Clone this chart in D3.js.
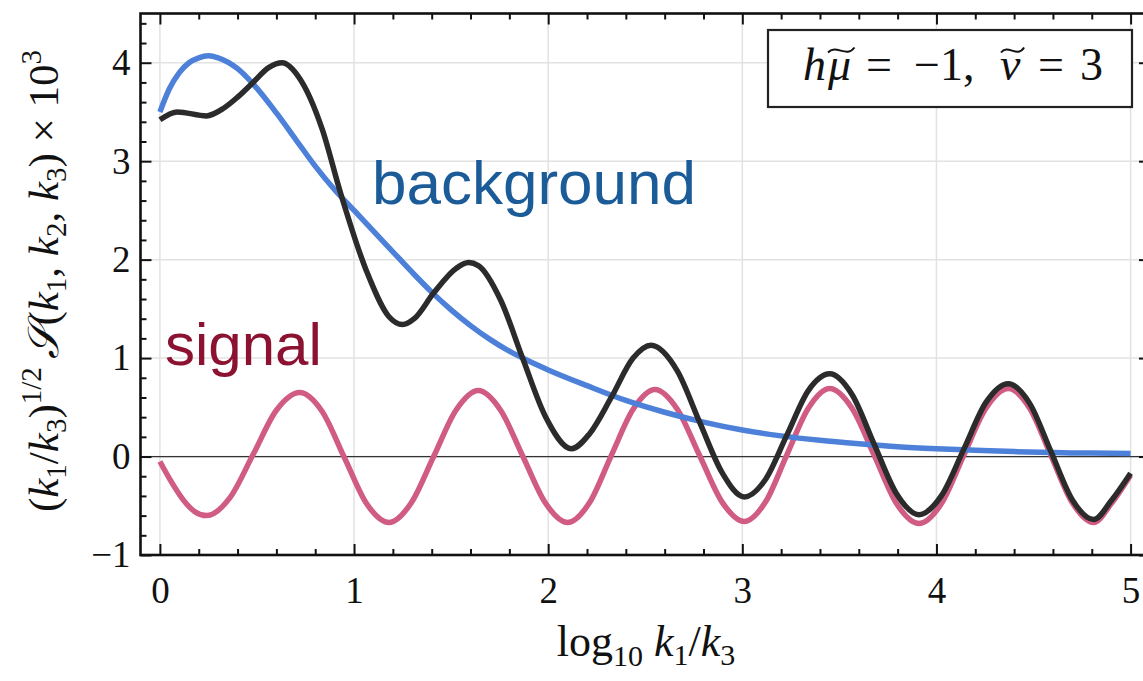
<!DOCTYPE html>
<html>
<head>
<meta charset="utf-8">
<script src="https://cdn.jsdelivr.net/npm/d3@7"></script>
<style>
  html, body { margin: 0; padding: 0; background: #fff; }
  svg { display: block; }
</style>
</head>
<body>
<svg id="chart" width="1143" height="681"></svg>
<script>
// ---------------- data ----------------
const xTickValues = [0, 1, 2, 3, 4, 5];
const yTickValues = [-1, 0, 1, 2, 3, 4];

const bgX = [0, 0.05, 0.1, 0.15, 0.2, 0.25, 0.3, 0.4, 0.5, 0.6, 0.7, 0.8, 0.9, 1.0, 1.1, 1.2, 1.3, 1.4, 1.5, 1.6, 1.7, 1.8, 1.9, 2.0, 2.2, 2.4, 2.6, 2.8, 3.0, 3.2, 3.4, 3.6, 3.8, 4.0, 4.2, 4.4, 4.6, 4.8, 5.0];
const bgY = [3.50, 3.74, 3.90, 4.00, 4.05, 4.07, 4.05, 3.94, 3.74, 3.49, 3.22, 2.95, 2.71, 2.50, 2.29, 2.08, 1.87, 1.67, 1.49, 1.33, 1.19, 1.07, 0.97, 0.88, 0.72, 0.57, 0.45, 0.35, 0.27, 0.21, 0.165, 0.13, 0.10, 0.08, 0.065, 0.05, 0.04, 0.035, 0.03];

const sigX = [0, 0.06, 0.12, 0.18, 0.24, 0.36, 0.48, 0.60, 0.72, 0.835, 0.95, 1.065, 1.18, 1.295, 1.41, 1.525, 1.64, 1.755, 1.87, 1.985, 2.10, 2.2125, 2.325, 2.4375, 2.55, 2.665, 2.78, 2.895, 3.01, 3.12, 3.23, 3.34, 3.45, 3.565, 3.68, 3.795, 3.91, 4.025, 4.14, 4.255, 4.37, 4.48, 4.59, 4.70, 4.81, 4.90, 5.0];
const sigY = [-0.05, -0.26, -0.44, -0.56, -0.60, -0.42, 0.02, 0.47, 0.65, 0.46, -0.01, -0.48, -0.67, -0.47, 0.00, 0.47, 0.67, 0.47, 0.00, -0.47, -0.67, -0.47, 0.01, 0.48, 0.68, 0.48, 0.01, -0.46, -0.66, -0.46, 0.02, 0.49, 0.69, 0.49, 0.01, -0.48, -0.68, -0.48, 0.01, 0.49, 0.69, 0.49, 0.01, -0.47, -0.67, -0.48, -0.19];

const totX = [0, 0.09, 0.24, 0.33, 0.40, 0.48, 0.56, 0.63, 0.72, 0.835, 0.93, 1.065, 1.18, 1.25, 1.31, 1.41, 1.525, 1.59, 1.64, 1.755, 1.87, 1.985, 2.12, 2.2125, 2.325, 2.4375, 2.53, 2.665, 2.78, 2.895, 3.01, 3.12, 3.23, 3.34, 3.45, 3.565, 3.68, 3.795, 3.91, 4.025, 4.14, 4.255, 4.37, 4.48, 4.59, 4.70, 4.81, 4.90, 5.0];
const totY = [3.42, 3.50, 3.46, 3.54, 3.65, 3.80, 3.95, 4.00, 3.84, 3.33, 2.68, 1.88, 1.42, 1.34, 1.40, 1.66, 1.91, 1.97, 1.94, 1.59, 0.99, 0.41, 0.08, 0.23, 0.60, 1.00, 1.13, 0.87, 0.35, -0.16, -0.41, -0.23, 0.22, 0.67, 0.84, 0.63, 0.12, -0.38, -0.59, -0.40, 0.07, 0.55, 0.74, 0.54, 0.05, -0.44, -0.64, -0.45, -0.17];

// ---------------- layout ----------------
const svg = d3.select("#chart");
svg.append("rect").attr("width", 1143).attr("height", 681).attr("fill", "#fff");

const L = 140.5, R = 1150, T = 13.5, B = 555;
const x = d3.scaleLinear().domain([-0.1, 5.1]).range([L, R]);
const y = d3.scaleLinear().domain([-1, 4.5]).range([B, T]);

const minorX = d3.range(0, 5.11, 0.2).map(v => +v.toFixed(2)).filter(v => Math.abs(v - Math.round(v)) > 1e-6);
const minorY = d3.range(-1, 4.51, 0.2).map(v => +v.toFixed(2)).filter(v => Math.abs(v - Math.round(v)) > 1e-6);

// grid
const grid = svg.append("g");
grid.selectAll("line.gx").data(xTickValues).join("line")
  .attr("x1", d => x(d)).attr("x2", d => x(d)).attr("y1", T).attr("y2", B)
  .attr("stroke", "#e2e2e2").attr("stroke-width", 1.5);
grid.selectAll("line.gy").data(yTickValues).join("line")
  .attr("x1", L).attr("x2", R).attr("y1", d => y(d)).attr("y2", d => y(d))
  .attr("stroke", "#e2e2e2").attr("stroke-width", 1.5);
svg.append("line").attr("x1", L).attr("x2", R).attr("y1", y(0)).attr("y2", y(0))
  .attr("stroke", "#333").attr("stroke-width", 1.2);

// lines
const line = d3.line().x(d => x(d[0])).y(d => y(d[1])).curve(d3.curveMonotoneX);
const sigData = sigX.map((v, i) => [v, sigY[i]]);
const bgData = bgX.map((v, i) => [v, bgY[i]]);
const totData = totX.map((v, i) => [v, totY[i]]);

svg.append("path").datum(sigData).attr("d", line).attr("fill", "none")
  .attr("stroke", "#d05c84").attr("stroke-width", 5.5).attr("stroke-linejoin", "round");
svg.append("path").datum(bgData).attr("d", line).attr("fill", "none")
  .attr("stroke", "#4d80d8").attr("stroke-width", 5.5).attr("stroke-linejoin", "round");
svg.append("path").datum(totData).attr("d", line).attr("fill", "none")
  .attr("stroke", "#2b2b2b").attr("stroke-width", 5.5).attr("stroke-linejoin", "round");

// axes (ticks inward)
const tickFont = "'Liberation Serif', 'Times New Roman', serif";
function styleAxis(g) {
  g.select(".domain").remove();
  g.selectAll(".tick line").attr("stroke", "#111").attr("stroke-width", 2);
  g.selectAll(".tick text").attr("font-family", tickFont).attr("font-size", 37).attr("fill", "#111");
}
svg.append("g").attr("transform", `translate(0,${B})`)
  .call(d3.axisBottom(x).tickValues(xTickValues).tickSize(-11).tickPadding(22).tickFormat(d3.format("d")))
  .call(styleAxis);
svg.append("g").attr("transform", `translate(0,${B})`)
  .call(d3.axisBottom(x).tickValues(minorX).tickSize(-6).tickFormat(""))
  .call(styleAxis);
svg.append("g").attr("transform", `translate(0,${T})`)
  .call(d3.axisTop(x).tickValues(xTickValues).tickSize(-11).tickFormat(""))
  .call(styleAxis);
svg.append("g").attr("transform", `translate(0,${T})`)
  .call(d3.axisTop(x).tickValues(minorX).tickSize(-6).tickFormat(""))
  .call(styleAxis);
svg.append("g").attr("transform", `translate(${L},0)`)
  .call(d3.axisLeft(y).tickValues(yTickValues).tickSize(-11).tickPadding(10).tickFormat(d3.format("d")))
  .call(styleAxis);
svg.append("g").attr("transform", `translate(${L},0)`)
  .call(d3.axisLeft(y).tickValues(minorY).tickSize(-6).tickFormat(""))
  .call(styleAxis);
svg.append("g").attr("transform", `translate(${R},0)`)
  .call(d3.axisRight(y).tickValues(yTickValues).tickSize(-11).tickFormat(""))
  .call(styleAxis);
svg.append("g").attr("transform", `translate(${R},0)`)
  .call(d3.axisRight(y).tickValues(minorY).tickSize(-6).tickFormat(""))
  .call(styleAxis);

// frame
svg.append("rect").attr("x", L).attr("y", T).attr("width", R - L).attr("height", B - T)
  .attr("fill", "none").attr("stroke", "#111").attr("stroke-width", 2.6);

// annotations
svg.append("text").attr("x", 372).attr("y", 204)
  .attr("font-family", "'Liberation Sans', Arial, sans-serif").attr("font-size", 62)
  .attr("fill", "#1b5c98").text("background");
svg.append("text").attr("x", 165).attr("y", 365)
  .attr("font-family", "'Liberation Sans', Arial, sans-serif").attr("font-size", 60)
  .attr("fill", "#8c1232").text("signal");

// legend box
svg.append("rect").attr("x", 768).attr("y", 30).attr("width", 364).attr("height", 77)
  .attr("fill", "#fff").attr("stroke", "#222").attr("stroke-width", 2.2);
const legParts = [
  { t: "h", x: 803, it: true },
  { t: "μ", x: 828, it: true, tilde: true },
  { t: "=", x: 866, it: false },
  { t: "−1,", x: 914, it: false },
  { t: "ν", x: 1000, it: true, tilde: true },
  { t: "=", x: 1038, it: false },
  { t: "3", x: 1080, it: false }
];
legParts.forEach(p => {
  const t = svg.append("text").attr("x", p.x).attr("y", 80)
    .attr("font-family", tickFont).attr("font-size", 46).attr("fill", "#111")
    .attr("font-style", p.it ? "italic" : "normal").text(p.t);
  if (p.tilde) {
    const bb = t.node().getBBox();
    const w = bb.width * 1.1, x0 = bb.x + 1, y0 = 50, h = 5;
    svg.append("path")
      .attr("d", `M${x0},${y0 + h / 2} C${x0 + w * 0.3},${y0 - h * 1.3} ${x0 + w * 0.7},${y0 + h * 1.7} ${x0 + w},${y0 - h / 2}`)
      .attr("fill", "none").attr("stroke", "#111").attr("stroke-width", 2);
  }
});

// axis labels
const xl = svg.append("text").attr("x", 646).attr("y", 656).attr("text-anchor", "middle")
  .attr("font-family", tickFont).attr("font-size", 44).attr("fill", "#111");
xl.append("tspan").text("log");
xl.append("tspan").attr("font-size", 30).attr("dy", 10).text("10");
xl.append("tspan").attr("dy", -10).text(" ");
xl.append("tspan").attr("font-style", "italic").text("k");
xl.append("tspan").attr("font-size", 30).attr("dy", 9).text("1");
xl.append("tspan").attr("dy", -9).text("/");
xl.append("tspan").attr("font-style", "italic").text("k");
xl.append("tspan").attr("font-size", 30).attr("dy", 9).text("3");

const yl = svg.append("text").attr("transform", "translate(58,281) rotate(-90)").attr("text-anchor", "middle")
  .attr("font-family", tickFont).attr("font-size", 43).attr("fill", "#111");
yl.append("tspan").text("(");
yl.append("tspan").attr("font-style", "italic").text("k");
yl.append("tspan").attr("font-size", 29).attr("dy", 8).text("1");
yl.append("tspan").attr("dy", -8).text("/");
yl.append("tspan").attr("font-style", "italic").text("k");
yl.append("tspan").attr("font-size", 29).attr("dy", 8).text("3");
yl.append("tspan").attr("dy", -8).text(")");
yl.append("tspan").attr("font-size", 29).attr("dy", -17).text("1/2");
yl.append("tspan").attr("dy", 17).text("\u2009");
yl.append("tspan").attr("font-style", "italic").text("𝒮");
yl.append("tspan").text("(");
yl.append("tspan").attr("font-style", "italic").text("k");
yl.append("tspan").attr("font-size", 29).attr("dy", 8).text("1");
yl.append("tspan").attr("dy", -8).text(", ");
yl.append("tspan").attr("font-style", "italic").text("k");
yl.append("tspan").attr("font-size", 29).attr("dy", 8).text("2");
yl.append("tspan").attr("dy", -8).text(", ");
yl.append("tspan").attr("font-style", "italic").text("k");
yl.append("tspan").attr("font-size", 29).attr("dy", 8).text("3");
yl.append("tspan").attr("dy", -8).text(") × 10");
yl.append("tspan").attr("font-size", 29).attr("dy", -17).text("3");
</script>
</body>
</html>
